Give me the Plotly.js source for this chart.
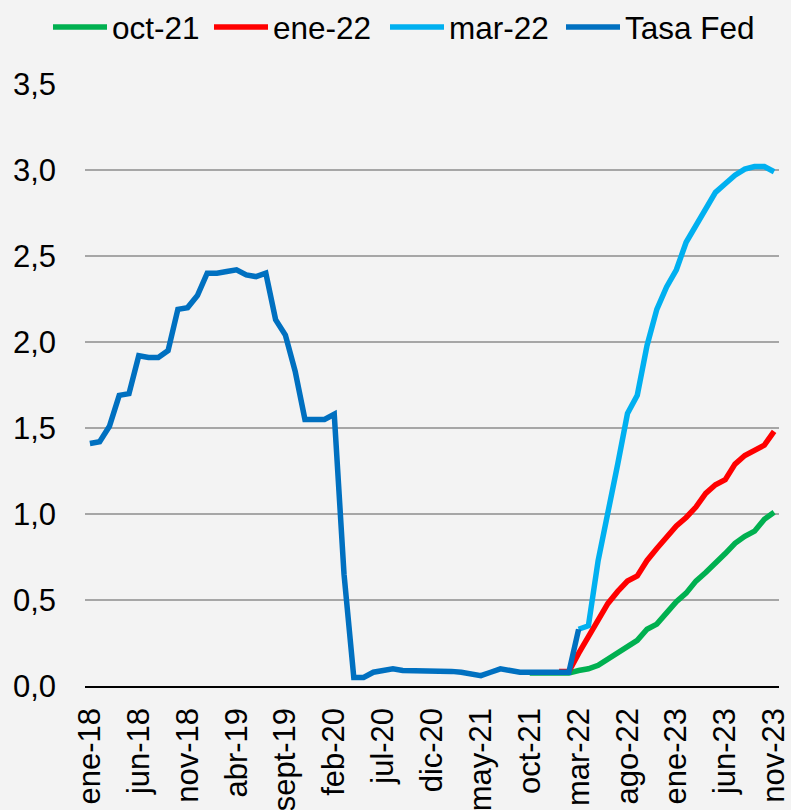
<!DOCTYPE html>
<html>
<head>
<meta charset="utf-8">
<script src="https://cdn.plot.ly/plotly-3.0.1.min.js"></script>
<style>
  html, body { margin: 0; padding: 0; background: #f3f3f3; }
  #chart { width: 791px; height: 810px; }
</style>
</head>
<body>
<div id="chart"></div>
<script>
// Month labels (Spanish abbreviations) and years covered by the chart
const monthNames = ['ene','feb','mar','abr','may','jun','jul','ago','sept','oct','nov','dic'];
const years = ['18','19','20','21','22','23'];
const lastLabel = 'nov-23';

// Effective Fed rate (Tasa Fed), monthly from ene-18 to mar-22
const tasaFed = [1.41, 1.42, 1.51, 1.69, 1.70, 1.92, 1.91, 1.91, 1.95, 2.19, 2.20, 2.27,
                 2.40, 2.40, 2.41, 2.42, 2.39, 2.38, 2.40, 2.13, 2.04, 1.83, 1.55, 1.55,
                 1.55, 1.58, 0.65, 0.05, 0.05, 0.08, 0.09, 0.10, 0.09, 0.09, 0.09, 0.09,
                 0.09, 0.085, 0.08, 0.07, 0.06, 0.08, 0.10, 0.09, 0.08, 0.08, 0.08, 0.08,
                 0.08, 0.08, 0.33];

// Market expectations at each date (start month, then monthly values to nov-23)
const oct21Start = 'oct-21';
const oct21 = [0.075, 0.075, 0.075, 0.075, 0.075, 0.09, 0.10, 0.12, 0.155, 0.19, 0.23, 0.265,
               0.33, 0.36, 0.425, 0.49, 0.54, 0.61, 0.66, 0.71, 0.77, 0.83, 0.87, 0.90,
               0.97, 1.01];
const ene22Start = 'ene-22';
const ene22 = [0.085, 0.085, 0.19, 0.29, 0.39, 0.48, 0.55, 0.61, 0.64, 0.73, 0.80, 0.87,
               0.93, 0.98, 1.04, 1.12, 1.17, 1.20, 1.29, 1.34, 1.37, 1.40, 1.48];
const mar22Start = 'mar-22';
const mar22 = [0.33, 0.35, 0.73, 1.00, 1.29, 1.585, 1.69, 1.98, 2.19, 2.32, 2.42, 2.58,
               2.68, 2.78, 2.87, 2.92, 2.97, 3.005, 3.02, 3.02, 2.99];

// Build category list
const categories = [];
outer:
for (const y of years) {
  for (const m of monthNames) {
    const lab = m + '-' + y;
    categories.push(lab);
    if (lab === lastLabel) break outer;
  }
}
const tickLabels = categories.filter((c, i) => i % 5 === 0);
const fromLabel = (start, vals) => categories.slice(categories.indexOf(start), categories.indexOf(start) + vals.length);

const LW = 5.5;
const FONT = 'Liberation Sans, Arial, sans-serif';
const W = 791, H = 810;
const M = {l: 85, r: 12, t: 84, b: 124};

const traces = [
  {x: fromLabel(oct21Start, oct21), y: oct21, name: 'oct-21', type: 'scatter', mode: 'lines',
   line: {color: '#00B050', width: LW}},
  {x: fromLabel(ene22Start, ene22), y: ene22, name: 'ene-22', type: 'scatter', mode: 'lines',
   line: {color: '#FF0000', width: LW}},
  {x: fromLabel(mar22Start, mar22), y: mar22, name: 'mar-22', type: 'scatter', mode: 'lines',
   line: {color: '#00B0F0', width: LW}},
  {x: categories.slice(0, tasaFed.length), y: tasaFed, name: 'Tasa Fed', type: 'scatter', mode: 'lines',
   line: {color: '#0070C0', width: LW}}
];

// Custom legend (long line symbols like the original), laid out in pixels
const legendLineStart = [53, 214, 390, 566];
const legendLineLen = 54;
const legendY = 27;
const pw = W - M.l - M.r, ph = H - M.t - M.b;
const px2x = p => (p - M.l) / pw;
const px2y = p => (H - M.b - p) / ph;
const shapes = [], annotations = [];
traces.forEach((t, i) => {
  const x0 = legendLineStart[i];
  shapes.push({type: 'line', xref: 'paper', yref: 'paper',
    x0: px2x(x0), x1: px2x(x0 + legendLineLen), y0: px2y(legendY), y1: px2y(legendY),
    line: {color: t.line.color, width: LW}});
  annotations.push({xref: 'paper', yref: 'paper', x: px2x(x0 + legendLineLen + 3), y: px2y(legendY + 1),
    xanchor: 'left', yanchor: 'middle', showarrow: false, text: t.name,
    font: {family: FONT, size: 31.5, color: '#000'}});
});

const layout = {
  width: W, height: H,
  paper_bgcolor: '#f3f3f3',
  plot_bgcolor: 'rgba(0,0,0,0)',
  font: {family: FONT, size: 30, color: '#000'},
  separators: ',.',
  margin: M,
  showlegend: false,
  shapes: shapes,
  annotations: annotations,
  xaxis: {
    type: 'category',
    categoryorder: 'array', categoryarray: categories,
    range: [-0.5, categories.length - 0.5],
    tickmode: 'array', tickvals: tickLabels, ticktext: tickLabels,
    tickangle: -90,
    ticks: '', showgrid: false,
    showline: true, linecolor: '#000', linewidth: 1.5,
    tickfont: {family: FONT, size: 31, color: '#000'},
    ticklabelstandoff: 8,
    fixedrange: true
  },
  yaxis: {
    range: [0, 3.5],
    tickmode: 'linear', tick0: 0, dtick: 0.5,
    tickformat: '.1f',
    showgrid: true, gridcolor: '#a6a6a6', gridwidth: 1.3,
    zeroline: false, showline: false, ticks: '',
    tickfont: {family: FONT, size: 31, color: '#000'},
    ticklabelstandoff: 28,
    fixedrange: true
  }
};

Plotly.newPlot('chart', traces, layout, {displayModeBar: false, staticPlot: true});
</script>
</body>
</html>
